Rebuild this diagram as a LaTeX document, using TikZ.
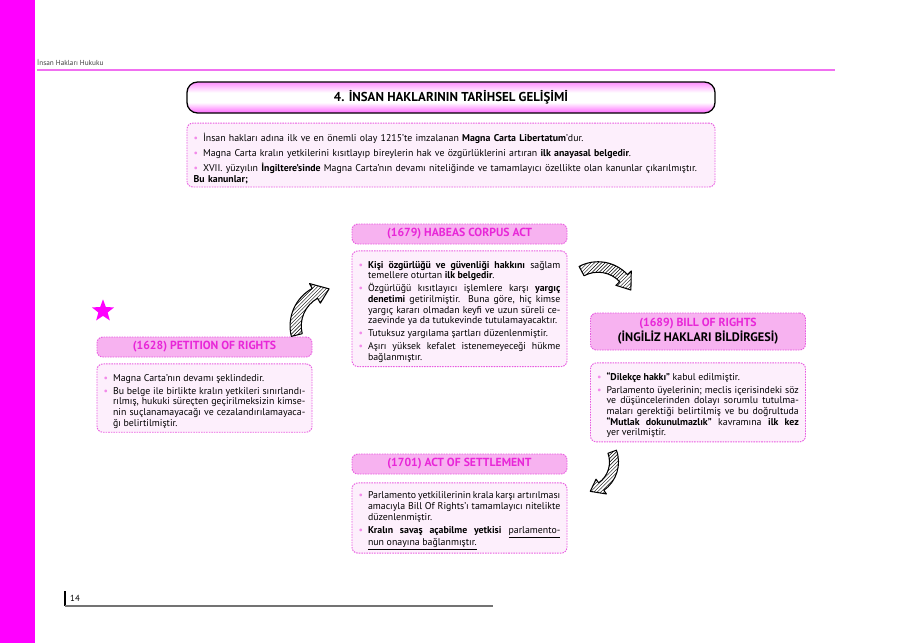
\documentclass[tikz,border=0pt]{standalone}
\usepackage{fontspec}
\setmainfont{PT Sans}
\usepackage{xcolor}
\usetikzlibrary{positioning,shapes.geometric,patterns}

\definecolor{barpink}{HTML}{FF00FF}
\definecolor{rulepink}{HTML}{F070F0}
\definecolor{dashpink}{HTML}{E85CE0}
\definecolor{titlefill}{HTML}{F7B2F0}
\definecolor{bodyfill}{HTML}{FDEFFC}
\definecolor{titletext}{HTML}{E826D8}
\definecolor{bulletpink}{HTML}{F28AEA}

% pink glow at top and bottom, white in the middle
\pgfdeclareverticalshading{glowbar}{100bp}{color(0bp)=(magenta!60); color(25bp)=(magenta!60); color(42bp)=(white); color(58bp)=(white); color(75bp)=(magenta!45); color(100bp)=(magenta!45)}

% one bullet item with hanging indent
\newcommand{\bitem}[1]{\par\hangindent=8pt\hangafter=1\noindent\makebox[8pt][l]{\textcolor{bulletpink}{\textbullet}}#1\par}

\tikzset{
  bentarrow/.pic={
    \draw[line width=0.9pt, line join=round, pattern=north east lines]
      (180:1.15cm) arc[start angle=180, end angle=105, radius=1.15cm]
      -- (105:1.3cm) -- (82:1cm) -- (105:0.7cm) -- (105:0.85cm)
      arc[start angle=105, end angle=180, radius=0.85cm] -- cycle;
  }
}

\begin{document}
\begin{tikzpicture}[
  x=0.03cm, y=-0.03cm,
  titlebar/.style={draw=black, line width=1.1pt, rounded corners=9pt, shading=glowbar,
    minimum width=15.84cm, minimum height=0.93cm, font=\fontsize{11}{12}\selectfont\bfseries},
  introbox/.style={draw=dashpink, dash pattern=on 1.3pt off 0.9pt, line width=0.8pt, rounded corners=5pt, fill=bodyfill,
    text width=15.44cm, inner xsep=0.2cm, inner ysep=3pt, align=left, font=\fontsize{8.4}{9.2}\selectfont\setlength\parskip{3.5pt}},
  ttl/.style={draw=dashpink, dash pattern=on 1.3pt off 0.9pt, line width=0.8pt, rounded corners=5pt, fill=titlefill,
    minimum width=6.45cm, minimum height=0.6cm, inner sep=1pt, align=center, font=\fontsize{10}{13}\selectfont\bfseries\color{titletext}},
  body/.style={draw=dashpink, dash pattern=on 1.3pt off 0.9pt, line width=0.8pt, rounded corners=5pt, fill=bodyfill,
    text width=6.05cm, inner xsep=0.2cm, inner ysep=3.5pt, align=justify, font=\fontsize{8.4}{9.1}\selectfont\setlength\parskip{2pt}},
]
\useasboundingbox (0,0) rectangle (900,643);

% page decoration
\fill[barpink] (0,0) rectangle (35,643);
\node[anchor=west, inner sep=0pt, font=\fontsize{6.2}{7}\selectfont, black!75] (runhead) at (37,62) {İnsan Hakları Hukuku};
\draw[rulepink, line width=1pt] (37,70) -- (835,70);

% heading and intro
\node[titlebar] (maintitle) at (451,97.5) {4. İNSAN HAKLARININ TARİHSEL GELİŞİMİ};
\node[introbox, below=0.27cm of maintitle] (intro) {%
  \bitem{İnsan hakları adına ilk ve en önemli olay 1215’te imzalanan \textbf{Magna Carta Libertatum}’dur.}
  \bitem{Magna Carta kralın yetkilerini kısıtlayıp bireylerin hak ve özgürlüklerini artıran \textbf{ilk anayasal belgedir}.}
  \bitem{XVII. yüzyılın \textbf{İngiltere’sinde} Magna Carta’nın devamı niteliğinde ve tamamlayıcı özellikte olan kanunlar çıkarılmıştır.}
  \vspace{-3.5pt}\noindent\textbf{Bu kanunlar;}};

% (1679)
\node[ttl] (habeasT) at (459.5,234) {(1679) HABEAS CORPUS ACT};
\node[body, below=0.18cm of habeasT] (habeasB) {%
  \bitem{\textbf{Kişi özgürlüğü ve güvenliği hakkını} sağlam\linebreak temellere oturtan \textbf{ilk belgedir}.}
  \bitem{Özgürlüğü kısıtlayıcı işlemlere karşı \textbf{yargıç\linebreak denetimi} getirilmiştir. Buna göre, hiç kimse\linebreak yargıç kararı olmadan keyfi ve uzun süreli ce-\linebreak zaevinde ya da tutukevinde tutulamayacaktır.}
  \bitem{Tutuksuz yargılama şartları düzenlenmiştir.}
  \bitem{Aşırı yüksek kefalet istenemeyeceği hükme\linebreak bağlanmıştır.}};

% (1628)
\node[star, star points=5, star point ratio=2.4, fill=barpink, minimum size=0.7cm, inner sep=0pt] (mark) at (103,311) {};
\node[ttl] (petitionT) at (204.5,347) {(1628) PETITION OF RIGHTS};
\node[body, below=0.18cm of petitionT] (petitionB) {%
  \bitem{Magna Carta’nın devamı şeklindedir.}
  \bitem{Bu belge ile birlikte kralın yetkileri sınırlandı-\linebreak rılmış, hukuki süreçten geçirilmeksizin kimse-\linebreak nin suçlanamayacağı ve cezalandırılamayaca-\linebreak ğı belirtilmiştir.}};

% (1689)
\node[ttl, minimum height=1.11cm] (billT) at (698,331.5) {(1689) BILL OF RIGHTS\\{\color{black}\fontsize{10.5}{13}\selectfont(İNGİLİZ HAKLARI BİLDİRGESİ)}};
\node[body, below=0.36cm of billT] (billB) {%
  \bitem{\textbf{“Dilekçe hakkı”} kabul edilmiştir.}
  \bitem{Parlamento üyelerinin; meclis içerisindeki söz\linebreak ve düşüncelerinden dolayı sorumlu tutulma-\linebreak maları gerektiği belirtilmiş ve bu doğrultuda\linebreak \textbf{“Mutlak dokunulmazlık”} kavramına \textbf{ilk kez}\linebreak yer verilmiştir.}};

% (1701)
\node[ttl] (settleT) at (459.5,464) {(1701) ACT OF SETTLEMENT};
\node[body, below=0.24cm of settleT, inner ysep=2.5pt] (settleB) {%
  \bitem{Parlamento yetkililerinin krala karşı artırılması\linebreak amacıyla Bill Of Rights’ı tamamlayıcı nitelikte\linebreak düzenlenmiştir.}
  \bitem{\textbf{Kralın savaş açabilme yetkisi} \underline{parlamento-}\linebreak \underline{nun onayına bağlanmıştır.}}};

% hatched arrows
\pic[rotate=14, scale=1.12] at (333,326) {bentarrow};
\pic[rotate=-62, scale=1.05] at (598,302) {bentarrow};
\pic[rotate=-160, scale=0.9] at (584,462) {bentarrow};

% page number
\draw[black, line width=1pt] (65,591) -- (65,606);
\node[anchor=west, inner sep=0pt, font=\fontsize{7.5}{8}\selectfont] (pageno) at (70,598) {14};
\draw[black!55, line width=1pt] (65,606) -- (493,606);
\end{tikzpicture}
\end{document}
